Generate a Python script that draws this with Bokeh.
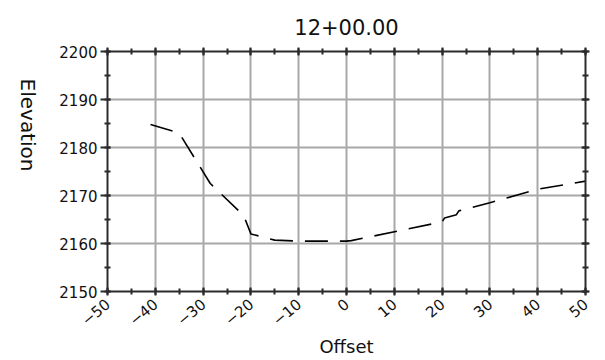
import math
from bokeh.plotting import figure
from bokeh.models import (Range1d, LinearAxis, SingleIntervalTicker,
                          CustomJSTickFormatter, ColumnDataSource, Grid)
from bokeh.embed import file_html
from bokeh.resources import INLINE

# ---- data ----
offset = [-41, -35, -28.5, -21.5, -20, -15, -10, 0, 1, 20, 20.5, 23, 23.5, 30, 40, 50]
elevation = [2184.8, 2183.0, 2172.5, 2165.8, 2162.0, 2160.7, 2160.5, 2160.5, 2160.6,
             2164.5, 2165.3, 2166.0, 2166.8, 2168.5, 2171.3, 2173.0]
title_text = "12+00.00"
x_label = "Offset"
y_label = "Elevation"

FONT = "DejaVu Sans"
AXIS_COLOR = "#2b2b2b"
GRID_COLOR = "#a8a8a8"

p = figure(output_backend="svg", toolbar_location=None,
           frame_width=478, frame_height=240,
           x_range=Range1d(-50, 50), y_range=Range1d(2150, 2200),
           x_axis_type=None, y_axis_type=None,
           min_border_left=107, min_border_right=12,
           min_border_top=51, min_border_bottom=60)
p.outline_line_color = None
p.background_fill_color = "white"
p.border_fill_color = "white"

p.title.text = title_text
p.title.align = "center"
p.title.text_font = FONT
p.title.text_font_size = "21px"
p.title.text_font_style = "normal"
p.title.text_color = "#111111"
p.title.standoff = 25

def make_axis(labels=True):
    ax = LinearAxis()
    ax.axis_line_color = AXIS_COLOR
    ax.axis_line_width = 2
    ax.major_tick_line_color = AXIS_COLOR
    ax.major_tick_line_width = 2
    ax.minor_tick_line_color = AXIS_COLOR
    ax.minor_tick_line_width = 2
    ax.major_label_text_font = FONT
    ax.major_label_text_font_size = "15px"
    ax.major_label_text_color = "#111111"
    ax.axis_label_text_font = FONT
    ax.axis_label_text_font_style = "normal"
    ax.axis_label_text_color = "#111111"
    if not labels:
        ax.formatter = CustomJSTickFormatter(code="return ''")
    return ax

xticker = SingleIntervalTicker(interval=10, num_minor_ticks=2)
yticker = SingleIntervalTicker(interval=10, num_minor_ticks=2)

# bottom axis
xb = make_axis()
xb.ticker = xticker
xb.major_tick_out = 4
xb.major_tick_in = 4
xb.minor_tick_out = 3
xb.minor_tick_in = 3
xb.major_label_orientation = 0.7
xb.major_label_standoff = 6
xb.axis_label = x_label
xb.axis_label_text_font_size = "18px"
xb.axis_label_standoff = 2
p.add_layout(xb, "below")

# left axis
yl = make_axis()
yl.ticker = yticker
yl.major_tick_out = 7
yl.major_tick_in = 3
yl.minor_tick_out = 3
yl.minor_tick_in = 3
yl.major_label_standoff = 3
yl.axis_label = y_label
yl.axis_label_text_font_size = "20px"
yl.axis_label_orientation = -math.pi / 2
yl.axis_label_standoff = 28
p.add_layout(yl, "left")

# top axis (ticks only)
xt = make_axis(labels=False)
xt.ticker = xticker
xt.major_tick_out = 4
xt.major_tick_in = 4
xt.minor_tick_out = 3
xt.minor_tick_in = 3
xt.major_label_text_font_size = "1px"
xt.major_label_standoff = 0
p.add_layout(xt, "above")

# right axis (ticks only)
yr = make_axis(labels=False)
yr.ticker = yticker
yr.major_tick_out = 4
yr.major_tick_in = 4
yr.minor_tick_out = 3
yr.minor_tick_in = 3
yr.major_label_text_font_size = "1px"
yr.major_label_standoff = 0
p.add_layout(yr, "right")

gx = Grid(dimension=0, ticker=xticker, grid_line_color=GRID_COLOR, grid_line_width=2)
gy = Grid(dimension=1, ticker=yticker, grid_line_color=GRID_COLOR, grid_line_width=2)
p.add_layout(gx)
p.add_layout(gy)

src = ColumnDataSource(dict(x=offset, y=elevation))
p.line("x", "y", source=src, line_color="black", line_width=1.6,
       line_dash="23 12")

open("out.html", "w").write(file_html(p, INLINE))
